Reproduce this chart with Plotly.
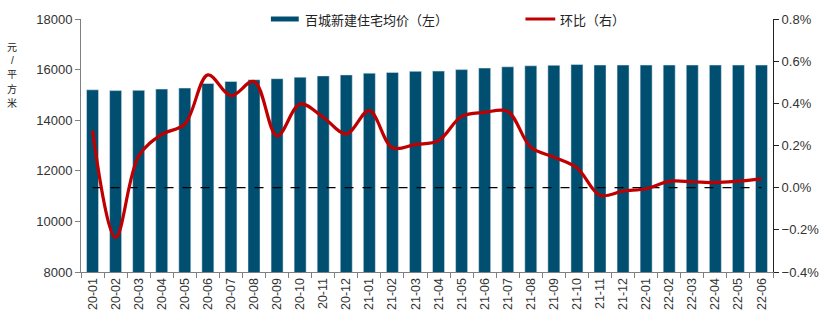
import plotly.graph_objects as go

months = ["20-01","20-02","20-03","20-04","20-05","20-06","20-07","20-08","20-09","20-10",
          "20-11","20-12","21-01","21-02","21-03","21-04","21-05","21-06","21-07","21-08",
          "21-09","21-10","21-11","21-12","22-01","22-02","22-03","22-04","22-05","22-06"]
avg_price = [15200,15170,15180,15230,15270,15450,15530,15600,15640,15700,
             15750,15790,15860,15890,15930,15940,16000,16060,16110,16150,
             16170,16200,16180,16180,16180,16180,16180,16180,16180,16180]
mom_pct = [0.271,-0.236,0.150,0.252,0.302,0.535,0.436,0.504,0.245,0.397,
           0.334,0.255,0.365,0.189,0.205,0.223,0.338,0.357,0.362,0.192,
           0.145,0.094,-0.036,-0.016,-0.005,0.030,0.028,0.024,0.031,0.042]
zero_ref = [0.0] * len(months)

bar_name = "百城新建住宅均价（左）"
line_name = "环比（右）"
y_title_chars = ["元", "/", "平", "方", "米"]

BAR_COLOR = "#004e70"
LINE_COLOR = "#c00000"
FONT = "Liberation Sans, Arial, Noto Sans CJK SC, sans-serif"
CJK = "Noto Sans CJK SC, sans-serif"

fig = go.Figure()
fig.add_trace(go.Bar(x=months, y=avg_price, name=bar_name, marker_color=BAR_COLOR,
                     showlegend=False))
fig.add_trace(go.Scatter(x=months, y=zero_ref, yaxis="y2", mode="lines",
                         line=dict(color="black", width=1.3, dash="dash"), showlegend=False))
fig.add_trace(go.Scatter(x=months, y=mom_pct, yaxis="y2", mode="lines", name=line_name,
                         line=dict(color=LINE_COLOR, width=3.2, shape="spline", smoothing=1.0),
                         showlegend=False))

L, R, T, B = 81, 54, 18, 51
W, H = 831, 323
pw, ph = W - L - R, H - T - B

def px(x):
    return (x - L) / pw

def py(y):
    return (H - B - y) / ph

shapes = [
    dict(type="rect", xref="paper", yref="paper", x0=px(272), x1=px(300), y0=py(20.5), y1=py(15.5),
         fillcolor=BAR_COLOR, line=dict(width=0)),
    dict(type="line", xref="paper", yref="paper", x0=px(528), x1=px(558), y0=py(18), y1=py(18),
         line=dict(color=LINE_COLOR, width=3)),
]
annotations = [
    dict(text=bar_name, xref="paper", yref="paper", x=px(304), y=py(18), xanchor="left",
         yanchor="middle", showarrow=False, font=dict(family=CJK, size=13, color="#222")),
    dict(text=line_name, xref="paper", yref="paper", x=px(561), y=py(18), xanchor="left",
         yanchor="middle", showarrow=False, font=dict(family=CJK, size=13, color="#222")),
]
title_centers = [46, 59.5, 73, 87.5, 102]
for ch, yc in zip(y_title_chars, title_centers):
    fam = FONT if ch == "/" else CJK
    annotations.append(dict(text=ch, xref="paper", yref="paper", x=px(12), y=py(yc),
                            xanchor="center", yanchor="middle", showarrow=False,
                            font=dict(family=fam, size=10, color="#222")))

fig.update_layout(
    width=W, height=H,
    margin=dict(l=L, r=R, t=T, b=B, pad=0),
    paper_bgcolor="white", plot_bgcolor="white",
    bargap=0.48,
    font=dict(family=FONT, size=13, color="#333"),
    xaxis=dict(type="category", tickangle=-90, tickson="boundaries", ticks="outside",
               ticklen=5, tickcolor="#808080", showline=True, linecolor="#808080",
               linewidth=1, showgrid=False, tickfont=dict(size=12.5, color="#333")),
    yaxis=dict(range=[8000, 18000], dtick=2000, tickformat="d", ticks="outside", ticklen=5,
               tickcolor="#808080", showline=True, linecolor="#808080", linewidth=1,
               showgrid=False, zeroline=False, tickfont=dict(size=13, color="#333")),
    yaxis2=dict(range=[-0.4, 0.8], dtick=0.2, tickformat=".1f", ticksuffix="%",
                overlaying="y", side="right", ticks="outside", ticklen=5,
                tickcolor="#222", showline=True, linecolor="#222", linewidth=1,
                showgrid=False, zeroline=False, tickfont=dict(size=13, color="#333")),
    shapes=shapes,
    annotations=annotations,
    showlegend=False,
)

fig.write_html("out.html")
